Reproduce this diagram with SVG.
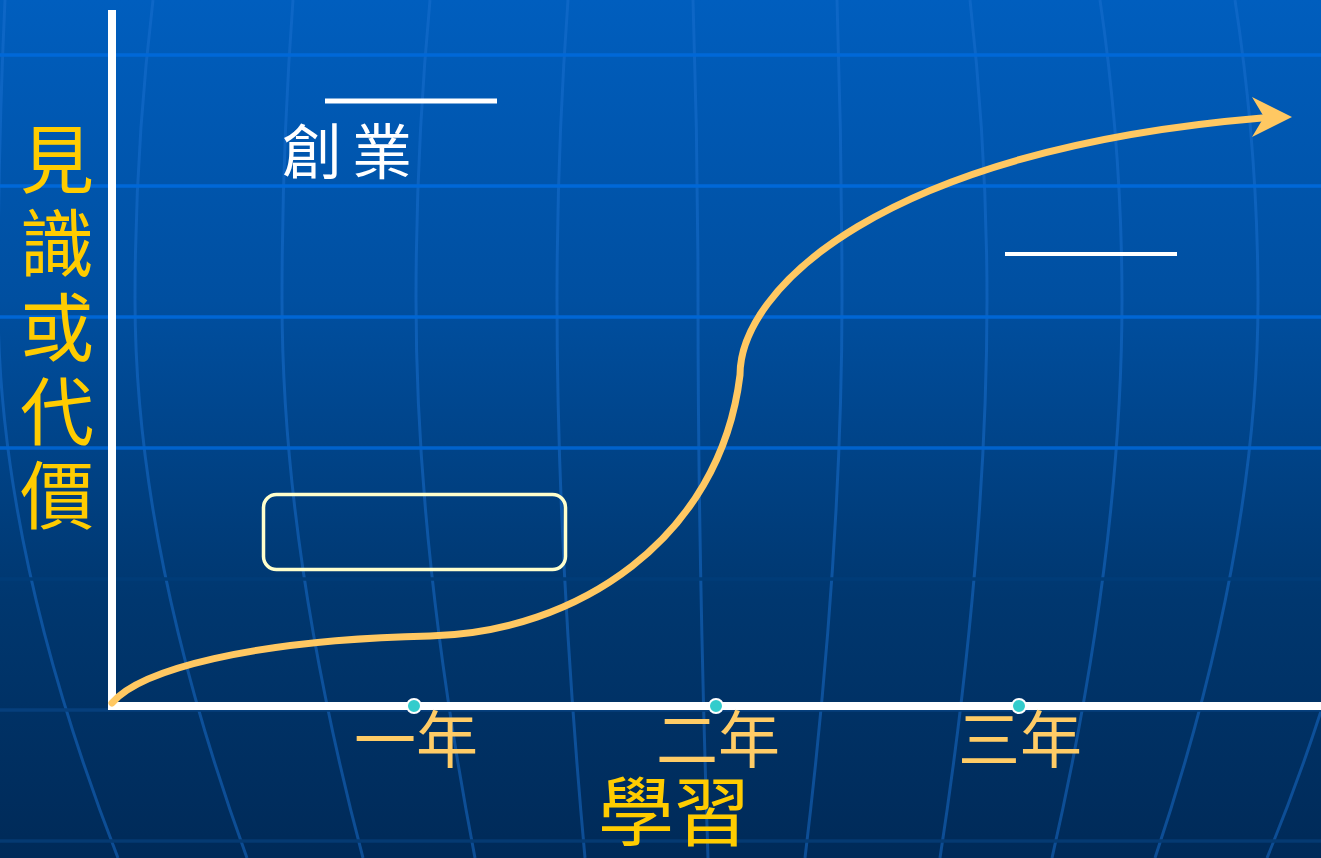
<svg xmlns="http://www.w3.org/2000/svg" width="1321" height="858" viewBox="0 0 1321 858">
<defs>
<linearGradient id="bg" x1="0" y1="0" x2="0" y2="1">
<stop offset="0" stop-color="#005EBE"/>
<stop offset="0.35" stop-color="#004FA0"/>
<stop offset="0.7" stop-color="#00376F"/>
<stop offset="1" stop-color="#002A58"/>
</linearGradient>
<style>
.mer{fill:none;stroke:#1a6fd0;stroke-opacity:0.5;stroke-width:3}
.hl{stroke-width:3.5}
.cjk{font-family:"Liberation Sans","Noto Sans CJK TC","Noto Sans CJK SC",sans-serif}
.gold{fill:#FFCC00}
.yr{fill:#FFCC66;font-size:62px;text-anchor:middle}
.dot{fill:#33CCCC;stroke:#FFFFFF;stroke-width:2}
.wl{stroke:#FFFFFF}
</style>
</defs>
<rect x="0" y="0" width="1321" height="858" fill="url(#bg)"/>
<g id="grid">
<path class="mer" d="M5,0 Q-2,150 -2,300 Q-2,550 118,858"/>
<path class="mer" d="M153,0 Q135,150 135,300 Q135,550 247,858"/>
<path class="mer" d="M293,0 Q282,150 282,300 Q282,550 363,858"/>
<path class="mer" d="M430,0 Q416,150 416,300 Q416,550 475,858"/>
<path class="mer" d="M568,0 Q557,150 557,300 Q557,550 585,858"/>
<path class="mer" d="M693,0 Q698,150 698,300 Q698,550 708,858"/>
<path class="mer" d="M837,0 Q842,150 842,300 Q842,550 805,858"/>
<path class="mer" d="M970,0 Q987,150 987,300 Q987,550 940,858"/>
<path class="mer" d="M1100,0 Q1122,150 1122,300 Q1122,550 1052,858"/>
<path class="mer" d="M1235,0 Q1258,150 1258,300 Q1258,550 1155,858"/>
<path class="mer" d="M1365,0 Q1393,150 1393,300 Q1393,550 1267,858"/>
<line class="hl" x1="0" y1="55" x2="1321" y2="55" stroke="#0068D8"/>
<line class="hl" x1="0" y1="186" x2="1321" y2="186" stroke="#0068D8"/>
<line class="hl" x1="0" y1="317" x2="1321" y2="317" stroke="#0066D4"/>
<line class="hl" x1="0" y1="448" x2="1321" y2="448" stroke="#0062CC"/>
<line class="hl" x1="0" y1="579" x2="1321" y2="579" stroke="#003C78"/>
<line class="hl" x1="0" y1="710" x2="1321" y2="710" stroke="#063F7C"/>
<line class="hl" x1="0" y1="841" x2="1321" y2="841" stroke="#053A72"/>
</g>
<g id="axes">
<line class="wl" x1="112" y1="10" x2="112" y2="710" stroke-width="8"/>
<line class="wl" x1="108" y1="706" x2="1321" y2="706" stroke-width="8"/>
</g>
<g id="connectors">
<path d="M112,703 C140,670 250,640 430,636 C575,633 720,540 740,375 C740,290 880,150 1262,118" fill="none" stroke="#FFC862" stroke-width="7" stroke-linecap="round"/>
<polygon points="1292,117 1252,97 1264,117 1252,137" fill="#FFC862"/>
</g>
<g id="y-label">
<text class="cjk gold" font-size="74" text-anchor="middle"><tspan x="57" y="187">見</tspan><tspan x="57" y="271">識</tspan><tspan x="57" y="355">或</tspan><tspan x="57" y="439">代</tspan><tspan x="57" y="523">價</tspan></text>
</g>
<g id="x-label">
<text class="cjk gold" font-size="76" text-anchor="middle" x="674" y="840">學習</text>
</g>
<g id="tick-1">
<circle class="dot" cx="414" cy="706" r="7"/>
<text class="cjk yr" x="416" y="763">一年</text>
</g>
<g id="tick-2">
<circle class="dot" cx="716" cy="706" r="7"/>
<text class="cjk yr" x="718" y="763">二年</text>
</g>
<g id="tick-3">
<circle class="dot" cx="1019" cy="706" r="7"/>
<text class="cjk yr" x="1020" y="763">三年</text>
</g>
<g id="label-chuangye">
<line class="wl" x1="325" y1="101" x2="497" y2="101" stroke-width="5"/>
<text class="cjk" fill="#FFFFFF" font-size="60" letter-spacing="10" x="282" y="174">創業</text>
</g>
<g id="label-right">
<line class="wl" x1="1005" y1="254" x2="1177" y2="254" stroke-width="4"/>
</g>
<g id="box">
<rect x="263.5" y="494.5" width="302" height="75" rx="13" fill="none" stroke="#FFFFCC" stroke-width="3.5"/>
</g>
</svg>
